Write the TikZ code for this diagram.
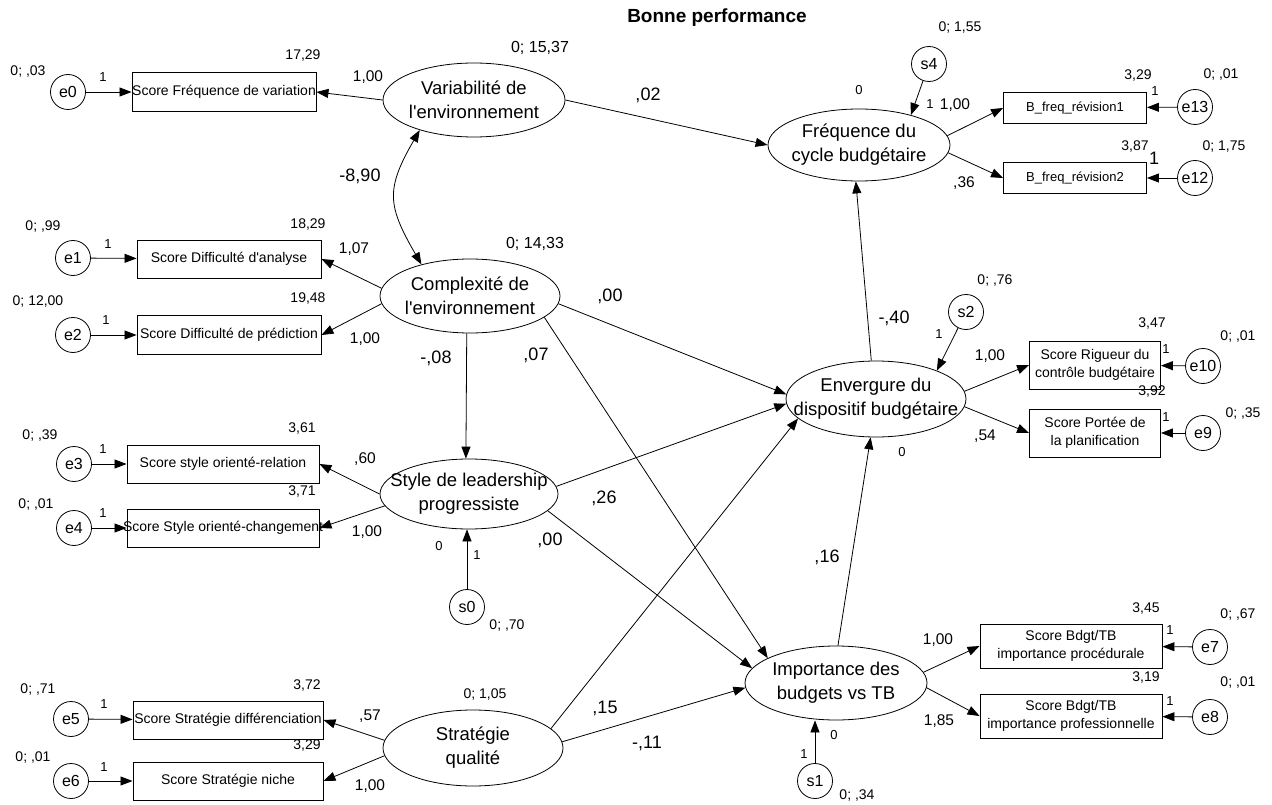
\documentclass[tikz,border=0pt]{standalone}
\usepackage{fontspec}
\setmainfont{Liberation Sans}[Ligatures=TeXOff]
\usetikzlibrary{shapes.geometric,arrows.meta}
\newcommand{\zl}[1]{\makebox[0pt]{#1}}
\begin{document}
\begin{tikzpicture}[x=1pt,y=-1pt,
 lat/.style={ellipse,draw,line width=0.8pt,minimum width=182pt,minimum height=74pt,inner sep=0pt,align=center,font=\fontsize{18.5}{24}\selectfont},
 obs/.style={rectangle,draw,line width=0.9pt,inner sep=0pt,align=center,font=\fontsize{14}{18.5}\selectfont},
 err/.style={circle,draw,line width=0.8pt,minimum size=35pt,inner sep=0pt,font=\fontsize{16}{16}\selectfont},
 arr/.style={line width=0.8pt,-{Triangle[length=12pt,width=9pt]}},
 dbl/.style={line width=0.8pt,{Triangle[length=12pt,width=9pt]}-{Triangle[length=12pt,width=9pt]}},
 vlab/.style={inner sep=0pt,font=\fontsize{14}{14}\selectfont},
 lvlab/.style={inner sep=0pt,font=\fontsize{16}{16}\selectfont},
 coef/.style={inner sep=0pt,font=\fontsize{18}{18}\selectfont},
 ld/.style={inner sep=0pt,font=\fontsize{15.5}{15.5}\selectfont},
 one/.style={inner sep=0pt,font=\fontsize{13}{13}\selectfont},
 big1/.style={inner sep=0pt,font=\fontsize{18}{18}\selectfont}
]
\useasboundingbox (0,0) rectangle (1272,805);
\fill[white] (0,0) rectangle (1272,805);

\node[inner sep=0pt,font=\fontsize{19}{19}\selectfont\bfseries] (title) at (717,18) {Bonne performance};

% latent variables
\node[lat] (var) at (474,100) {\zl{Variabilité de}\\\zl{l'environnement}};
\node[lat,minimum height=72pt] (freq) at (859,145) {\zl{Fréquence du}\\\zl{cycle budgétaire}};
\node[lat,minimum width=180pt] (comp) at (470,296) {\zl{Complexité de}\\\zl{l'environnement}};
\node[lat,minimum width=180pt,minimum height=76pt] (env) at (876,399) {\zl{Envergure du}\\\zl{dispositif budgétaire}};
\node[lat,minimum width=178pt,minimum height=70pt] (style) at (469,494) {\zl{Style de leadership}\\\zl{progressiste}};
\node[lat] (imp) at (836,683) {\zl{Importance des}\\\zl{budgets vs TB}};
\node[lat,minimum width=180pt,minimum height=76pt] (strat) at (473,748) {\zl{Stratégie}\\\zl{qualité}};

% observed variables
\node[obs,minimum width=184pt,minimum height=39pt] (rF) at (224,92) {\zl{Score Fréquence de variation}};
\node[obs,minimum width=184pt,minimum height=38pt] (rA) at (229,259) {\zl{Score Difficulté d'analyse}};
\node[obs,minimum width=184pt,minimum height=39pt] (rP) at (229,335) {\zl{Score Difficulté de prédiction}};
\node[obs,minimum width=192pt,minimum height=38pt] (rR) at (223,464) {\zl{Score style orienté-relation}};
\node[obs,minimum width=192pt,minimum height=38pt] (rC) at (223,528) {\zl{Score Style orienté-changement}};
\node[obs,minimum width=190pt,minimum height=38pt] (rD) at (228,720) {\zl{Score Stratégie différenciation}};
\node[obs,minimum width=190pt,minimum height=38pt] (rN) at (228,781) {\zl{Score Stratégie niche}};
\node[obs,minimum width=143pt,minimum height=31pt,font=\fontsize{13}{13}\selectfont] (rev1) at (1075,108) {\zl{B\_freq\_révision1}};
\node[obs,minimum width=143pt,minimum height=31pt,font=\fontsize{13}{13}\selectfont] (rev2) at (1075,178) {\zl{B\_freq\_révision2}};
\node[obs,minimum width=131pt,minimum height=48pt] (rig) at (1095,365) {\zl{Score Rigueur du}\\\zl{contrôle budgétaire}};
\node[obs,minimum width=131pt,minimum height=48pt] (port) at (1095,433) {\zl{Score Portée de}\\\zl{la planification}};
\node[obs,minimum width=182pt,minimum height=44pt] (proc) at (1071,646) {\zl{Score Bdgt/TB}\\\zl{importance procédurale}};
\node[obs,minimum width=182pt,minimum height=44pt] (prof) at (1071,716) {\zl{Score Bdgt/TB}\\\zl{importance professionnelle}};

% error terms
\node[err] (e0) at (68,92) {e0};
\node[err] (e1) at (73,258) {e1};
\node[err] (e2) at (73,335) {e2};
\node[err] (e3) at (74,464) {e3};
\node[err] (e4) at (74,528) {e4};
\node[err] (e5) at (71,719) {e5};
\node[err] (e6) at (71,781) {e6};
\node[err] (s4) at (929,64) {s4};
\node[err] (e13) at (1195,107) {e13};
\node[err] (e12) at (1195,178) {e12};
\node[err] (s2) at (966,312) {s2};
\node[err] (e10) at (1203,366) {e10};
\node[err] (e9) at (1203,433) {e9};
\node[err] (e7) at (1210,647) {e7};
\node[err] (e8) at (1210,717) {e8};
\node[err] (s0) at (467,607) {s0};
\node[err] (s1) at (815,781) {s1};

% connectors
\draw[arr] (e0) -- (rF);
\draw[arr] (e1) -- (rA);
\draw[arr] (e2) -- (rP);
\draw[arr] (e3) -- (rR);
\draw[arr] (e4) -- (rC);
\draw[arr] (e5) -- (rD);
\draw[arr] (e6) -- (rN);
\draw[arr] (var.west) -- (rF.east);
\draw[arr] (var.east) -- (freq.west);
\draw[dbl] (var.209) to[out=240,in=120,looseness=1.3] (comp.147);
\draw[arr] (comp.175) -- (rA.east);
\draw[arr] (comp.185) -- (rP.east);
\draw[arr] (comp.265) -- (style.95);
\draw[arr] (comp.-5) -- (env.177);
\draw[arr] (comp.-16) -- (imp.160);
\draw[arr] (style.west) -- (rR.east);
\draw[arr] (style.188) -- (rC.east);
\draw[arr] (style.5) -- (env.183);
\draw[arr] (style.-12) -- (imp.170);
\draw[arr] (s0) -- (s0 |- style.south);
\draw[arr] (strat.175) -- (rD.east);
\draw[arr] (strat.185) -- (rN.east);
\draw[arr] (strat.14) -- (env.194);
\draw[arr] (strat.4) -- (imp.183);
\draw[arr] (s1) -- (s1 |- imp.south);
\draw[arr] (imp.87) -- (env.262);
\draw[arr] (env.97) -- (freq.265);
\draw[arr] (s2) -- (env.25);
\draw[arr] (env.5) -- (rig.west);
\draw[arr] (env.-5) -- (port.west);
\draw[arr] (e10) -- (rig);
\draw[arr] (e9) -- (port);
\draw[arr] (s4) -- (freq.30);
\draw[arr] (freq.6) -- (rev1.west);
\draw[arr] (freq.-5) -- (rev2.west);
\draw[arr] (e13) -- (rev1);
\draw[arr] (e12) -- (rev2);
\draw[arr] (imp.7) -- (proc.west);
\draw[arr] (imp.-3) -- (prof.west);
\draw[arr] (e7) -- (proc);
\draw[arr] (e8) -- (prof);

% labels left column
\node[vlab] (l1) at (28,72) {0; ,03};
\node[one] (l2) at (103,77) {1};
\node[vlab] (l3) at (303,56) {17,29};
\node[ld] (l4) at (368,77) {1,00};
\node[lvlab] (l5) at (540,48) {0; 15,37};
\node[coef] (l6) at (648,95) {,02};
\node[coef] (l7) at (360,176) {-8,90};
\node[vlab] (l8) at (43,227) {0; ,99};
\node[one] (l9) at (108,244) {1};
\node[vlab] (l10) at (308,225) {18,29};
\node[ld] (l11) at (354,249) {1,07};
\node[lvlab] (l12) at (535,244) {0; 14,33};
\node[vlab] (l13) at (38,302) {0; 12,00};
\node[one] (l14) at (106,320) {1};
\node[vlab] (l15) at (308,299) {19,48};
\node[ld] (l16) at (365,339) {1,00};
\node[coef] (l17) at (610,296) {,00};
\node[coef] (l18) at (436,358) {-,08};
\node[coef] (l19) at (536,355) {,07};
\node[vlab] (l20) at (40,436) {0; ,39};
\node[one] (l21) at (103,449) {1};
\node[vlab] (l22) at (302,429) {3,61};
\node[ld] (l23) at (365,459) {,60};
\node[vlab] (l24) at (302,492) {3,71};
\node[vlab] (l25) at (36,505) {0; ,01};
\node[one] (l26) at (103,513) {1};
\node[ld] (l27) at (367,532) {1,00};
\node[coef] (l28) at (604,498) {,26};
\node[coef] (l29) at (550,540) {,00};
\node[one] (l30) at (439,546) {0};
\node[one] (l31) at (477,555) {1};
\node[vlab] (l32) at (507,626) {0; ,70};
\node[vlab] (l33) at (485,695) {0; 1,05};
\node[coef] (l34) at (605,708) {,15};
\node[coef] (l35) at (647,743) {-,11};
\node[vlab] (l36) at (38,690) {0; ,71};
\node[one] (l37) at (104,704) {1};
\node[vlab] (l38) at (307,686) {3,72};
\node[ld] (l39) at (370,716) {,57};
\node[vlab] (l40) at (33,758) {0; ,01};
\node[one] (l41) at (104,767) {1};
\node[vlab] (l42) at (307,746) {3,29};
\node[ld] (l43) at (370,786) {1,00};
% labels right part
\node[one] (l44) at (834,735) {0};
\node[one] (l45) at (804,754) {1};
\node[vlab] (l46) at (857,796) {0; ,34};
\node[coef] (l47) at (827,557) {,16};
\node[coef] (l48) at (894,318) {-,40};
\node[vlab] (l49) at (995,281) {0; ,76};
\node[one] (l50) at (939,334) {1};
\node[ld] (l51) at (990,356) {1,00};
\node[vlab] (l52) at (1152,324) {3,47};
\node[vlab] (l53) at (1238,337) {0; ,01};
\node[one] (l54) at (1166,349) {1};
\node[vlab] (l55) at (1152,392) {3,92};
\node[one] (l56) at (1166,417) {1};
\node[vlab] (l57) at (1243,414) {0; ,35};
\node[ld] (l58) at (985,436) {,54};
\node[one] (l59) at (902,452) {0};
\node[one] (l60) at (859,90) {0};
\node[vlab] (l61) at (960,28) {0; 1,55};
\node[one] (l62) at (930,104) {1};
\node[ld] (l63) at (955,105) {1,00};
\node[vlab] (l64) at (1138,76) {3,29};
\node[vlab] (l65) at (1221,75) {0; ,01};
\node[one] (l66) at (1155,91) {1};
\node[vlab] (l67) at (1135,147) {3,87};
\node[big1] (l68) at (1154,158) {1};
\node[vlab] (l69) at (1224,147) {0; 1,75};
\node[ld] (l70) at (964,183) {,36};
\node[ld] (l71) at (938,640) {1,00};
\node[vlab] (l72) at (1146,609) {3,45};
\node[vlab] (l73) at (1238,615) {0; ,67};
\node[one] (l74) at (1170,630) {1};
\node[vlab] (l75) at (1146,678) {3,19};
\node[vlab] (l76) at (1238,683) {0; ,01};
\node[one] (l77) at (1170,701) {1};
\node[ld] (l78) at (939,721) {1,85};
\end{tikzpicture}
\end{document}
